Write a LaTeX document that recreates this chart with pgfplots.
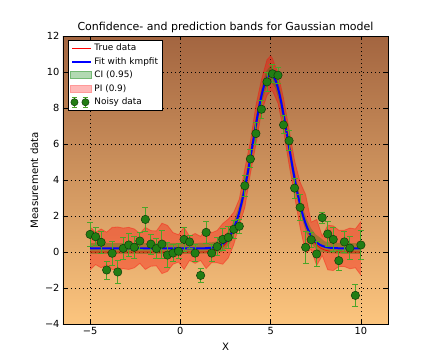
\documentclass[border=0pt]{standalone}
\usepackage{fontspec}
\setmainfont{DejaVu Sans}
\usepackage{pgfplots}
\usepackage{pgfplotstable}
\pgfplotsset{compat=1.18}
\usepgfplotslibrary{fillbetween}

\definecolor{bgtop}{RGB}{163,101,64}
\definecolor{bgbot}{RGB}{252,197,126}
\definecolor{mkfill}{RGB}{34,125,20}
\definecolor{mkedge}{RGB}{15,60,10}
\definecolor{errc}{RGB}{75,165,40}
\definecolor{cigreen}{RGB}{0,128,0}

\pgfplotstableread{
x y e
-5.000 0.98 0.66
-4.694 0.85 0.50
-4.388 0.54 0.60
-4.082 -1.00 0.50
-3.776 -0.07 0.65
-3.469 -1.11 0.66
-3.163 0.20 0.63
-2.857 0.39 0.65
-2.551 0.26 0.60
-2.245 0.61 0.46
-1.939 1.81 0.65
-1.633 0.44 0.55
-1.327 0.19 0.54
-1.020 0.44 0.78
-0.714 -0.17 0.71
-0.408 -0.06 0.49
-0.102 0.04 0.42
0.204 0.70 0.65
0.510 0.56 0.37
0.816 -0.06 0.46
1.122 -1.30 0.37
1.429 1.09 0.63
1.735 -0.06 0.46
2.041 0.30 0.50
2.347 0.70 0.63
2.653 0.81 0.60
2.959 1.26 0.50
3.265 1.43 0.40
3.571 3.68 0.60
3.878 5.17 0.50
4.184 6.58 0.60
4.490 7.93 0.50
4.796 9.45 0.55
5.102 9.90 0.50
5.408 9.82 0.46
5.714 7.06 0.50
6.020 6.18 0.55
6.327 3.55 0.55
6.633 2.48 0.70
6.939 0.26 0.90
7.245 0.68 0.42
7.551 -0.11 0.71
7.857 1.91 0.30
8.163 1.00 0.69
8.469 0.70 0.69
8.776 -0.48 0.56
9.082 0.56 0.56
9.388 0.22 0.63
9.694 -2.41 0.60
10.000 0.39 0.83
}\noisy

\begin{document}
\begin{tikzpicture}
\path (-63pt,-36pt) rectangle (377pt,324pt);
\begin{axis}[
  at={(0pt,0pt)}, anchor=south west,
  scale only axis, width=325pt, height=288pt,
  xmin=-6.5, xmax=11.5, ymin=-4, ymax=12,
  xtick={-5,0,5,10}, xticklabels={−5,0,5,10},
  ytick={-4,-2,0,2,4,6,8,10,12},
  yticklabels={−4,−2,0,2,4,6,8,10,12},
  xtick pos=both, ytick pos=both,
  xticklabel pos=lower, yticklabel pos=left,
  tick align=inside, major tick length=4pt,
  tick style={black, line width=0.6pt},
  minor tick num=0,
  grid=major,
  grid style={black, line width=0.6pt, dash pattern=on 1pt off 3pt},
  axis line style={black, line width=0.9pt},
  axis background/.style={top color=bgtop, bottom color=bgbot},
  tick label style={font=\fontsize{9.8}{11}\selectfont},
  label style={font=\fontsize{10.2}{12}\selectfont},
  xlabel style={yshift=-1pt},
  title style={font=\fontsize{11}{13}\selectfont, yshift=-6pt},
  title={Confidence- and prediction bands for Gaussian model},
  xlabel={X}, ylabel={Measurement data},
  legend cell align=left,
  legend style={at={(0.015,0.986)}, anchor=north west, draw=black, fill=white,
    line width=0.6pt, font=\fontsize{8.9}{10}\selectfont, row sep=1.3pt,
    inner xsep=2pt, inner ysep=1.5pt},
]
% legend entries
\addlegendimage{legend image code/.code={\draw[red, line width=0.8pt] (0pt,0pt) -- (19pt,0pt);}}
\addlegendentry{True data}
\addlegendimage{legend image code/.code={\draw[blue, line width=2pt] (0pt,0pt) -- (19pt,0pt);}}
\addlegendentry{Fit with kmpfit}
\addlegendimage{legend image code/.code={\filldraw[fill=cigreen!30, draw=cigreen!55, line width=0.6pt] (-2pt,-3.5pt) rectangle (19pt,3.5pt);}}
\addlegendentry{CI (0.95)}
\addlegendimage{legend image code/.code={\filldraw[fill=red!28, draw=red!40, line width=0.6pt] (-2pt,-3.5pt) rectangle (19pt,3.5pt);}}
\addlegendentry{PI (0.9)}
\addlegendimage{legend image code/.code={
  \draw[errc, line width=0.9pt] (2pt,-5pt) -- (2pt,5pt) (-0.5pt,-5pt) -- (4.5pt,-5pt) (-0.5pt,5pt) -- (4.5pt,5pt);
  \draw[errc, line width=0.9pt] (13pt,-5pt) -- (13pt,5pt) (10.5pt,-5pt) -- (15.5pt,-5pt) (10.5pt,5pt) -- (15.5pt,5pt);
  \filldraw[fill=mkfill, draw=mkedge, line width=0.5pt] (2pt,0pt) circle (3.6pt);
  \filldraw[fill=mkfill, draw=mkedge, line width=0.5pt] (13pt,0pt) circle (3.6pt);}}
\addlegendentry{Noisy data}

% prediction band (PI)
\addplot[name path=piu, draw=red, draw opacity=0.35, line width=0.8pt, forget plot] coordinates {
(-5.000,1.39) (-4.694,1.10) (-4.388,1.28) (-4.082,1.10) (-3.776,1.37) (-3.469,1.39)
(-3.163,1.33) (-2.857,1.37) (-2.551,1.28) (-2.245,1.03) (-1.939,1.37) (-1.633,1.19)
(-1.327,1.17) (-1.020,1.60) (-0.714,1.48) (-0.408,1.08) (-0.102,0.96) (0.204,1.37)
(0.510,0.87) (0.816,1.03) (1.122,0.87) (1.429,1.34) (1.735,1.07) (2.041,1.20)
(2.347,1.58) (2.653,1.83) (2.959,2.21) (3.265,2.94) (3.571,4.63) (3.878,6.14)
(4.184,8.14) (4.490,9.57) (4.796,10.68) (5.000,10.90) (5.102,10.75) (5.408,9.92) (5.714,8.54)
(6.020,6.83) (6.327,5.07) (6.633,3.88) (6.939,3.19) (7.245,1.66) (7.551,1.81)
(7.857,0.88) (8.163,1.49) (8.469,1.45) (8.776,1.21) (9.082,1.21) (9.388,1.33)
(9.694,1.28) (10.000,1.69)};
\addplot[name path=pil, draw=red, draw opacity=0.35, line width=0.8pt, forget plot] coordinates {
(-5.000,-0.99) (-4.694,-0.70) (-4.388,-0.88) (-4.082,-0.70) (-3.776,-0.97) (-3.469,-0.99)
(-3.163,-0.93) (-2.857,-0.97) (-2.551,-0.88) (-2.245,-0.63) (-1.939,-0.97) (-1.633,-0.79)
(-1.327,-0.77) (-1.020,-1.20) (-0.714,-1.08) (-0.408,-0.68) (-0.102,-0.56) (0.204,-0.97)
(0.510,-0.47) (0.816,-0.63) (1.122,-0.47) (1.429,-0.92) (1.735,-0.59) (2.041,-0.60)
(2.347,-0.68) (2.653,-0.33) (2.959,0.41) (3.265,1.50) (3.571,2.47) (3.878,4.34)
(4.184,5.98) (4.490,7.77) (4.796,8.70) (5.000,8.95) (5.102,8.95) (5.408,8.26) (5.714,6.74)
(6.020,4.85) (6.327,3.09) (6.633,1.36) (6.939,-0.05) (7.245,0.14) (7.551,-0.75)
(7.857,-0.20) (8.163,-0.99) (8.469,-1.03) (8.776,-0.81) (9.082,-0.81) (9.388,-0.93)
(9.694,-0.88) (10.000,-1.29)};
\addplot[red, fill opacity=0.35, draw=none, forget plot] fill between[of=piu and pil];

% confidence band (CI)
\addplot[name path=ciu, draw=none, forget plot] coordinates {
(-5,0.50) (1,0.50) (1.5,0.52) (1.75,0.54) (2,0.59) (2.25,0.79) (2.5,0.97) (2.75,1.30)
(3,1.81) (3.25,2.57) (3.5,3.61) (3.75,4.95) (4,6.41) (4.25,7.89) (4.5,9.17) (4.75,10.04)
(5,10.35) (5.25,10.04) (5.5,9.17) (5.75,7.89) (6,6.41) (6.25,4.95) (6.5,3.61) (6.75,2.57)
(7,1.81) (7.25,1.30) (7.5,0.97) (7.75,0.79) (8,0.59) (8.25,0.54) (8.5,0.52) (9,0.50) (10,0.50)};
\addplot[name path=cil, draw=none, forget plot] coordinates {
(-5,-0.10) (1,-0.10) (1.5,-0.08) (1.75,-0.06) (2,-0.01) (2.25,-0.01) (2.5,0.17) (2.75,0.50)
(3,1.01) (3.25,1.77) (3.5,2.81) (3.75,4.05) (4,5.51) (4.25,6.99) (4.5,8.27) (4.75,9.14)
(5,9.45) (5.25,9.14) (5.5,8.27) (5.75,6.99) (6,5.51) (6.25,4.05) (6.5,2.81) (6.75,1.77)
(7,1.01) (7.25,0.50) (7.5,0.17) (7.75,-0.01) (8,-0.01) (8.25,-0.06) (8.5,-0.08) (9,-0.10) (10,-0.10)};
\addplot[cigreen, fill opacity=0.3, draw=none, forget plot] fill between[of=ciu and cil];

% true data
\addplot[red, line width=0.8pt, smooth, forget plot] coordinates {
(-5,0) (1,0) (1.5,0.02) (1.75,0.05) (2,0.11) (2.25,0.23) (2.5,0.44) (2.75,0.80)
(3,1.35) (3.25,2.16) (3.5,3.25) (3.75,4.58) (4,6.07) (4.25,7.55) (4.5,8.82) (4.75,9.69)
(5,10.00) (5.25,9.69) (5.5,8.82) (5.75,7.55) (6,6.07) (6.25,4.58) (6.5,3.25) (6.75,2.16)
(7,1.35) (7.25,0.80) (7.5,0.44) (7.75,0.23) (8,0.11) (8.25,0.05) (8.5,0.02) (9,0) (10,0)};

% fit
\addplot[blue, line width=2pt, smooth, forget plot] coordinates {
(-5,0.20) (1,0.20) (1.5,0.22) (1.75,0.24) (2,0.29) (2.25,0.39) (2.5,0.57) (2.75,0.90)
(3,1.41) (3.25,2.17) (3.5,3.21) (3.75,4.50) (4,5.96) (4.25,7.44) (4.5,8.72) (4.75,9.59)
(5,9.90) (5.25,9.59) (5.5,8.72) (5.75,7.44) (6,5.96) (6.25,4.50) (6.5,3.21) (6.75,2.17)
(7,1.41) (7.25,0.90) (7.5,0.57) (7.75,0.39) (8,0.29) (8.25,0.24) (8.5,0.22) (9,0.20) (10,0.20)};

% noisy data with error bars
\addplot[only marks, mark=*, mark size=4.2pt, forget plot,
  mark options={fill=mkfill, draw=mkedge, line width=0.5pt},
  error bars/.cd, y dir=both, y explicit,
  error bar style={draw=errc, line width=0.9pt},
  error mark options={draw=errc, rotate=90, mark size=3pt, line width=0.9pt}]
  table[x=x, y=y, y error=e] {\noisy};
\end{axis}
\end{tikzpicture}
\end{document}
